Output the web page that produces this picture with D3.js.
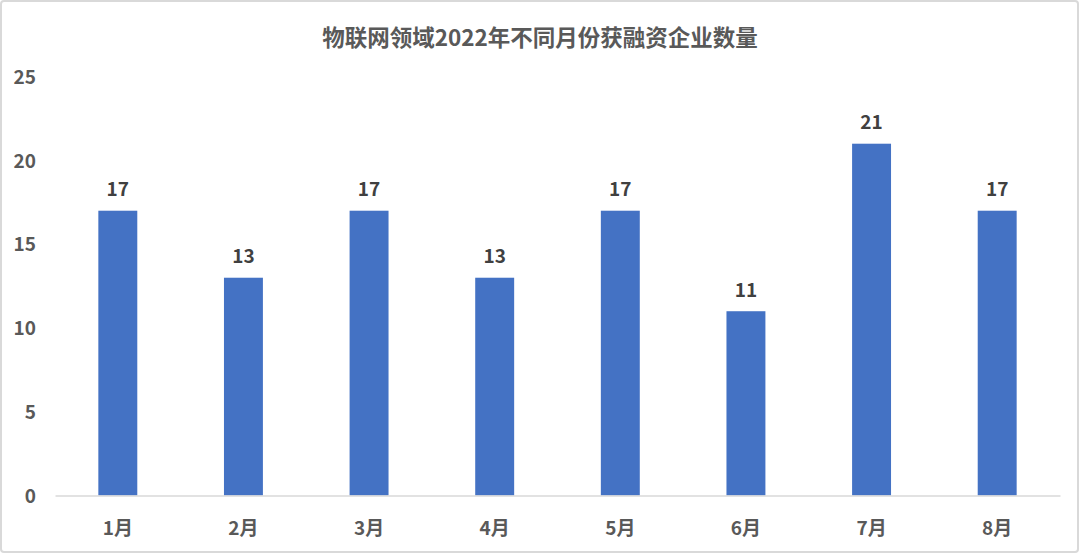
<!DOCTYPE html>
<html><head><meta charset="utf-8">
<script src="https://cdn.jsdelivr.net/npm/d3@7"></script>
<style>
html,body{margin:0;padding:0;background:#fff;}
svg{display:block;font-family:"Noto Sans CJK SC","Microsoft YaHei",sans-serif;}
</style></head>
<body>
<svg id="chart" width="1080" height="554"></svg>
<script>
const title = "物联网领域2022年不同月份获融资企业数量";
const categories = ["1月","2月","3月","4月","5月","6月","7月","8月"];
const values = [17,13,17,13,17,11,21,17];
const yTicks = [0,5,10,15,20,25];

const svg = d3.select("#chart");
const W = 1080, H = 554;

svg.append("rect").attr("x",1).attr("y",1).attr("width",W-3).attr("height",H-3)
  .attr("rx",3).attr("fill","#fff").attr("stroke","#d9d9d9").attr("stroke-width",2);

const x = d3.scaleBand().domain(categories).range([55,1060]).paddingInner(0.69).paddingOuter(0.345);
const y = d3.scaleLinear().domain([0,25]).range([495.5,76.7]);

svg.append("text").attr("x",540).attr("y",36).attr("text-anchor","middle")
  .attr("dominant-baseline","central").attr("font-size",22.5).attr("font-weight","bold")
  .attr("fill","#595959").text(title);

// y axis labels
const yAxis = d3.axisLeft(y).tickValues(yTicks).tickSize(0).tickPadding(0);
const gy = svg.append("g").attr("transform","translate(36,0)").call(yAxis);
gy.select(".domain").remove();
gy.selectAll("text").attr("font-size",19).attr("font-weight","bold").attr("fill","#595959")
  .attr("font-family","'Noto Sans CJK SC',sans-serif").attr("dy","0.35em");

// bars
svg.append("g").selectAll("rect").data(values).join("rect")
  .attr("x",(d,i)=>x(categories[i])).attr("width",x.bandwidth())
  .attr("y",d=>y(d)).attr("height",d=>y(0)-y(d)).attr("fill","#4472C4");

// baseline + x axis
const xAxis = d3.axisBottom(x).tickSize(0).tickPadding(0);
const gx = svg.append("g").attr("transform",`translate(0,${y(0)})`).call(xAxis);
gx.select(".domain").attr("stroke","#d9d9d9").attr("stroke-width",1.5);
gx.selectAll("text").attr("font-size",19).attr("font-weight","bold").attr("fill","#595959")
  .attr("font-family","'Noto Sans CJK SC',sans-serif").attr("dy","0").attr("y",31)
  .attr("dominant-baseline","central");

// data labels
svg.append("g").selectAll("text").data(values).join("text")
  .attr("x",(d,i)=>x(categories[i])+x.bandwidth()/2).attr("y",d=>y(d)-23)
  .attr("text-anchor","middle").attr("dominant-baseline","central")
  .attr("font-size",19).attr("font-weight","bold").attr("fill","#404040").text(d=>d);
</script>
</body></html>
